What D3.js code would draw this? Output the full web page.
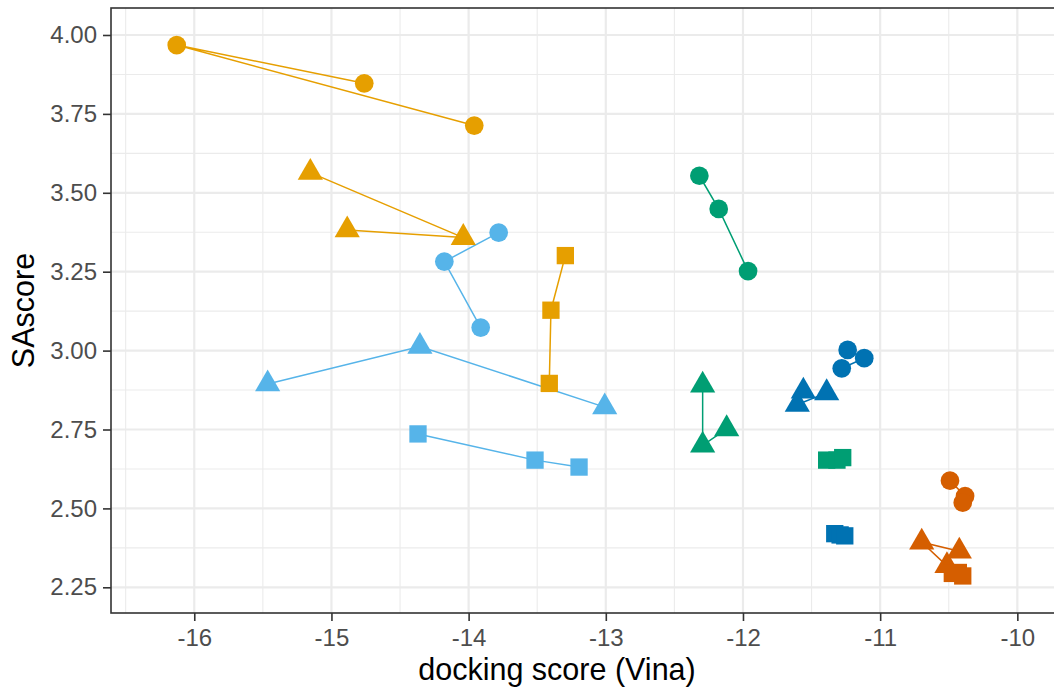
<!DOCTYPE html>
<html>
<head>
<meta charset="utf-8">
<script src="https://cdn.jsdelivr.net/npm/d3@7"></script>
<style>
  body { margin: 0; background: #fff; }
  svg { display: block; font-family: "Liberation Sans", Arial, sans-serif; }
</style>
</head>
<body>
<svg width="1054" height="687"></svg>
<script>
// one entry per compound series: colour group, marker shape, docking scores, SAscores
var colorGroup = [0, 0, 0, 1, 1, 1, 2, 2, 2, 3, 3, 3, 4, 4, 4];
var shapeGroup = ["circle", "triangle", "square",
                  "circle", "triangle", "square",
                  "circle", "triangle", "square",
                  "circle", "triangle", "square",
                  "circle", "triangle", "square"];

var vina = [
  [-14.761, -16.128, -13.959],
  [-15.154, -14.039, -14.885],
  [-13.295, -13.400, -13.412],
  [-13.781, -14.177, -13.912],
  [-15.465, -14.355, -13.008],
  [-14.369, -13.516, -13.195],
  [-12.318, -12.177, -11.963],
  [-12.294, -12.294, -12.119],
  [-11.390, -11.315, -11.273],
  [-11.237, -11.116, -11.280],
  [-11.560, -11.604, -11.390],
  [-11.331, -11.292, -11.258],
  [-10.491, -10.381, -10.398],
  [-10.423, -10.697, -10.513],
  [-10.474, -10.430, -10.398]
];

var sascore = [
  [3.847, 3.968, 3.713],
  [3.564, 3.358, 3.382],
  [3.301, 3.128, 2.896],
  [3.374, 3.282, 3.073],
  [2.894, 3.013, 2.821],
  [2.736, 2.653, 2.631],
  [3.554, 3.449, 3.252],
  [2.890, 2.700, 2.752],
  [2.653, 2.653, 2.661],
  [3.002, 2.976, 2.944],
  [2.871, 2.829, 2.866],
  [2.420, 2.416, 2.413],
  [2.588, 2.539, 2.518],
  [2.364, 2.393, 2.318],
  [2.294, 2.297, 2.286]
];

var xMajor = [-16, -15, -14, -13, -12, -11, -10];
var xMinor = [-16.5, -15.5, -14.5, -13.5, -12.5, -11.5, -10.5, -9.5];
var yMajor = [2.25, 2.5, 2.75, 3.0, 3.25, 3.5, 3.75, 4.0];
var yMinor = [2.375, 2.625, 2.875, 3.125, 3.375, 3.625, 3.875];

var palette = ["#E69F00", "#56B4E9", "#009E73", "#0072B2", "#D55E00"];

function drawChart() {
  var svg = d3.select("svg");
  var pLeft = 111, pRight = 1060, pTop = 8, pBottom = 613;

  var x = d3.scaleLinear().domain([-16.607, -9.689]).range([pLeft, pRight]);
  var y = d3.scaleLinear().domain([2.1686, 4.0855]).range([pBottom, pTop]);

  var grid = svg.append("g");

  function vLines(vals, w) {
    grid.selectAll(null).data(vals).enter().append("line")
      .attr("x1", function (d) { return x(d); }).attr("x2", function (d) { return x(d); })
      .attr("y1", pTop).attr("y2", pBottom)
      .attr("stroke", "#EBEBEB").attr("stroke-width", w);
  }
  function hLines(vals, w) {
    grid.selectAll(null).data(vals).enter().append("line")
      .attr("y1", function (d) { return y(d); }).attr("y2", function (d) { return y(d); })
      .attr("x1", pLeft).attr("x2", pRight)
      .attr("stroke", "#EBEBEB").attr("stroke-width", w);
  }
  // minor then major grid
  vLines(xMinor, 1.1);
  hLines(yMinor, 1.1);
  vLines(xMajor, 2.2);
  hLines(yMajor, 2.2);

  var series = vina.map(function (xs, i) {
    return {
      color: palette[colorGroup[i]],
      shape: shapeGroup[i],
      pts: xs.map(function (v, j) { return [v, sascore[i][j]]; })
    };
  });

  var line = d3.line()
    .x(function (d) { return x(d[0]); })
    .y(function (d) { return y(d[1]); });

  svg.append("g").selectAll("path").data(series).enter().append("path")
    .attr("d", function (d) { return line(d.pts); })
    .attr("fill", "none")
    .attr("stroke", function (d) { return d.color; })
    .attr("stroke-width", 1.5);

  var symbolType = {
    circle: d3.symbolCircle,
    triangle: d3.symbolTriangle,
    square: d3.symbolSquare
  };

  var markers = svg.append("g");
  series.forEach(function (s) {
    var sym = d3.symbol().type(symbolType[s.shape]).size(s.shape === "square" ? 300 : 275);
    markers.selectAll(null).data(s.pts).enter().append("path")
      .attr("d", sym)
      .attr("transform", function (d) { return "translate(" + x(d[0]) + "," + y(d[1]) + ")"; })
      .attr("fill", s.color);
  });

  // panel border
  svg.append("rect")
    .attr("x", pLeft).attr("y", pTop)
    .attr("width", pRight - pLeft).attr("height", pBottom - pTop)
    .attr("fill", "none").attr("stroke", "#333333").attr("stroke-width", 1.6);

  var xAxis = svg.append("g")
    .attr("transform", "translate(0," + pBottom + ")")
    .call(d3.axisBottom(x).tickValues(xMajor).tickSize(8).tickPadding(8)
      .tickFormat(function (d) { return String(d); }));
  var yAxis = svg.append("g")
    .attr("transform", "translate(" + pLeft + ",0)")
    .call(d3.axisLeft(y).tickValues(yMajor).tickSize(8).tickPadding(6)
      .tickFormat(function (d) { return d.toFixed(2); }));

  [xAxis, yAxis].forEach(function (a) {
    a.select(".domain").remove();
    a.selectAll(".tick line").attr("stroke", "#333333").attr("stroke-width", 1.6);
    a.selectAll(".tick text")
      .attr("fill", "#4D4D4D")
      .style("font-size", "24px")
      .style("font-family", "'Liberation Sans', Arial, sans-serif");
  });

  svg.append("text")
    .attr("x", 557).attr("y", 680)
    .attr("text-anchor", "middle")
    .style("font-size", "30.5px")
    .text("docking score (Vina)");

  svg.append("text")
    .attr("transform", "translate(34,310.5) rotate(-90)")
    .attr("text-anchor", "middle")
    .style("font-size", "30.5px")
    .text("SAscore");
}

drawChart();
</script>
</body>
</html>
